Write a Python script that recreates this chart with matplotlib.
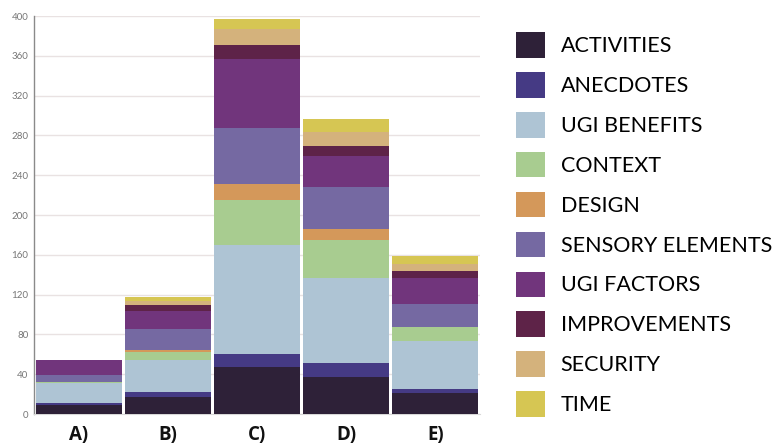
import matplotlib
matplotlib.use("Agg")
import matplotlib.pyplot as plt
import numpy as np

groups = ["A)", "B)", "C)", "D)", "E)"]
categories = ["ACTIVITIES", "ANECDOTES", "UGI BENEFITS", "CONTEXT", "DESIGN",
              "SENSORY ELEMENTS", "UGI FACTORS", "IMPROVEMENTS", "SECURITY", "TIME"]
colors = ["#2e2138", "#453a84", "#aec4d4", "#a8cc90", "#d4985a",
          "#7569a2", "#71357c", "#5e2348", "#d4b27c", "#d6c653"]

# counts per category, one value per group A..E
activities = [9, 17, 47, 37, 21]
anecdotes = [2, 5, 13, 14, 4]
ugi_benefits = [20, 32, 110, 86, 48]
context = [1, 8, 45, 38, 14]
design = [0, 2, 16, 11, 0]
sensory = [7, 21, 56, 42, 24]
ugi_factors = [15, 19, 70, 31, 26]
improvements = [0, 6, 14, 10, 7]
security = [0, 4, 16, 14, 7]
time_ = [0, 4, 10, 14, 8]

series = [activities, anecdotes, ugi_benefits, context, design,
          sensory, ugi_factors, improvements, security, time_]

plt.rcParams["font.family"] = ["Lato", "DejaVu Sans"]

fig = plt.figure(figsize=(7.83, 4.46), dpi=100)
ax = fig.add_axes([0.0434, 0.0717, 0.5696, 0.8923])

x = np.arange(len(groups))
bottom = np.zeros(len(groups))
handles = []
for name, vals, col in zip(categories, series, colors):
    vals = np.array(vals, dtype=float)
    h = ax.bar(x, vals, width=0.965, bottom=bottom, color=col, label=name,
               edgecolor="none", zorder=3)
    handles.append(h)
    bottom += vals

ax.set_xlim(-0.5, 4.5)
ax.set_ylim(0, 400)
ax.set_yticks(np.arange(0, 401, 40))
ax.yaxis.grid(True, color="#e9e2e2", lw=1.0, zorder=0)
ax.set_axisbelow(True)
for s in ["top", "right"]:
    ax.spines[s].set_visible(False)
ax.spines["left"].set_color("#8a8a8a")
ax.spines["left"].set_linewidth(1.0)
ax.spines["bottom"].set_color("#d8d8d8")
ax.tick_params(axis="y", length=0, labelsize=7, labelcolor="#777777", pad=4)
ax.tick_params(axis="x", length=0, pad=8)
ax.set_xticks(x)
ax.set_xticklabels(groups, fontsize=13.5, fontweight="bold", color="#111111",
                   family=["Open Sans", "DejaVu Sans"])

leg = fig.legend(handles=handles, labels=categories, loc="upper left",
                 bbox_to_anchor=(0.648, 0.947), frameon=False, fontsize=15.5,
                 handlelength=1.35, handleheight=1.45, handletextpad=0.72,
                 labelspacing=0.665, borderaxespad=0)
for t in leg.get_texts():
    t.set_color("#000000")

fig.savefig("out.png", dpi=100)
